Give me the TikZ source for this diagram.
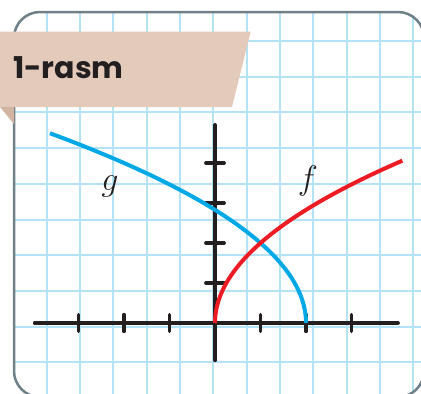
\RequirePackage{fix-cm}
\documentclass[tikz,border=0pt]{standalone}
\usepackage{fontspec}
\newfontfamily\titlefont{Poppins}
\usetikzlibrary{calc}
\definecolor{gridblue}{HTML}{B3E3F4}
\definecolor{framegray}{HTML}{6F8089}
\definecolor{bannertan}{HTML}{E3CABA}
\definecolor{foldtan}{HTML}{D2B4A2}
\definecolor{curveblue}{HTML}{00A9E6}
\definecolor{curvered}{HTML}{ED1C24}
\definecolor{axisblack}{HTML}{231F20}
\tikzstyle{gridline} = [draw=gridblue, line width=2pt]
\tikzstyle{frame} = [draw=framegray, line width=2.5pt, rounded corners=26pt]
\tikzstyle{axis} = [draw=axisblack, line width=4pt, line cap=round]
\tikzstyle{tick} = [draw=axisblack, line width=3.5pt, line cap=round]
\tikzstyle{curve} = [line width=4pt]
\tikzstyle{fname} = [font=\fontsize{34}{34}\selectfont, inner sep=0pt, text=axisblack]

\begin{document}
\begin{tikzpicture}[x=1pt, y=-1pt]
        \useasboundingbox (0,0) rectangle (421,394);
        \clip (0,0) rectangle (421,394);
        
        % Grid
        \begin{scope}
            \clip[rounded corners=26pt] (14,12) rectangle (424,397);
            \foreach \i in {0,...,11}
                \draw[gridline] ({46.5+33.35*\i},0) -- ++(0,400);
            \foreach \j in {0,...,9}
                \draw[gridline] (0,{41+35.72*\j}) -- ++(430,0);
        \end{scope}
        \draw[frame] (14,12) rectangle (424,397);
        
        % Banner
        \fill[bannertan] (0,31.5) -- (250.7,31.5) -- (232,107) -- (0,107) -- cycle;
        \fill[foldtan] (0,107) -- (14,107) -- (14,124) -- cycle;
        \node (title) [anchor=base west, inner sep=0pt, text=axisblack, font=\titlefont\bfseries\fontsize{30}{30}\selectfont] at (13,78) {1-rasm};
        
        % Axes
        \coordinate (O) at (215,323);
        \begin{scope}[shift={(O)}, x=45.5pt, y=40pt]
            \draw[axis] (-3.96,0) -- (4.02,0);
            \draw[axis] (0,-0.93) -- (0,4.95);
            \foreach \i in {-3,-2,-1,1,2,3}
                \draw[tick] (\i,-0.21) -- (\i,0.21);
            \foreach \j in {1,...,4}
                \draw[tick] (-0.2,\j) -- (0.2,\j);
            
            % Curves
            \draw[curve, draw=curveblue] plot[domain=0:2.373, samples=60, variable=\t] ({2-\t*\t},{2*\t});
            \draw[curve, draw=curvered] plot[domain=0:2.03, samples=60, variable=\t] ({\t*\t},{2*\t});
        \end{scope}
        
        % Labels
        \node (glabel) [fname] at (110,186) {$g$};
        \node (flabel) [fname] at (308,181) {$f$};
    \end{tikzpicture}
\end{document}
